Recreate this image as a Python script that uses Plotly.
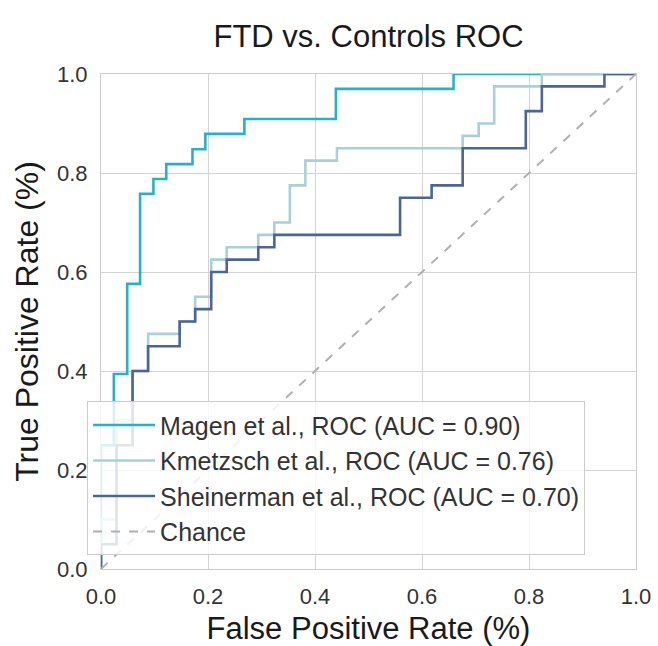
import plotly.graph_objects as go

# ---- data ----
magen_fpr = [0, 0, 0.024, 0.024, 0.049, 0.049, 0.073, 0.073, 0.098, 0.098, 0.122, 0.122,
             0.171, 0.171, 0.195, 0.195, 0.268, 0.268, 0.439, 0.439, 0.659, 0.659, 1.0]
magen_tpr = [0, 0.25, 0.25, 0.394, 0.394, 0.576, 0.576, 0.758, 0.758, 0.788, 0.788, 0.818,
             0.818, 0.848, 0.848, 0.879, 0.879, 0.909, 0.909, 0.970, 0.970, 1.0, 1.0]

kmetzsch_fpr = [0, 0, 0.029, 0.029, 0.059, 0.059, 0.088, 0.088, 0.147, 0.147, 0.176, 0.176,
                0.206, 0.206, 0.235, 0.235, 0.294, 0.294, 0.324, 0.324, 0.353, 0.353,
                0.382, 0.382, 0.441, 0.441, 0.676, 0.676, 0.706, 0.706, 0.735, 0.735,
                0.824, 0.824, 1.0]
kmetzsch_tpr = [0, 0.1, 0.1, 0.3, 0.3, 0.4, 0.4, 0.475, 0.475, 0.5, 0.5, 0.55,
                0.55, 0.625, 0.625, 0.65, 0.65, 0.675, 0.675, 0.7, 0.7, 0.775,
                0.775, 0.825, 0.825, 0.85, 0.85, 0.875, 0.875, 0.9, 0.9, 0.975,
                0.975, 1.0, 1.0]

sheinerman_fpr = [0, 0, 0.029, 0.029, 0.059, 0.059, 0.088, 0.088, 0.147, 0.147, 0.176, 0.176,
                  0.206, 0.206, 0.235, 0.235, 0.294, 0.294, 0.324, 0.324, 0.559, 0.559,
                  0.618, 0.618, 0.676, 0.676, 0.794, 0.794, 0.824, 0.824, 0.941, 0.941, 1.0]
sheinerman_tpr = [0, 0.05, 0.05, 0.25, 0.25, 0.4, 0.4, 0.45, 0.45, 0.5, 0.5, 0.525,
                  0.525, 0.6, 0.6, 0.625, 0.625, 0.65, 0.65, 0.675, 0.675, 0.75,
                  0.75, 0.775, 0.775, 0.85, 0.85, 0.925, 0.925, 0.975, 0.975, 1.0, 1.0]

chance_x = [0, 1]
chance_y = [0, 1]

names = ["Magen et al., ROC (AUC = 0.90)",
         "Kmetzsch et al., ROC (AUC = 0.76)",
         "Sheinerman et al., ROC (AUC = 0.70)",
         "Chance"]
tick_vals = [0.0, 0.2, 0.4, 0.6, 0.8, 1.0]
tick_text = ["0.0", "0.2", "0.4", "0.6", "0.8", "1.0"]

FONT = "Liberation Sans, Arial, sans-serif"

fig = go.Figure()
fig.add_trace(go.Scatter(x=magen_fpr, y=magen_tpr, mode="lines", name=names[0],
                         legendgroup="a", line=dict(color="#27b0c9", width=2.6)))
fig.add_trace(go.Scatter(x=kmetzsch_fpr, y=kmetzsch_tpr, mode="lines", name=names[1],
                         legendgroup="b", line=dict(color="#a9cfd9", width=2.6)))
fig.add_trace(go.Scatter(x=sheinerman_fpr, y=sheinerman_tpr, mode="lines", name=names[2],
                         legendgroup="c", line=dict(color="#4b6595", width=2.6)))
fig.add_trace(go.Scatter(x=chance_x, y=chance_y, mode="lines", name=names[3],
                         legendgroup="d", line=dict(color="#b0b0b0", width=2, dash="dash")))

axis_common = dict(
    range=[0, 1], tickvals=tick_vals, ticktext=tick_text,
    showgrid=True, gridcolor="#d4d4d4", gridwidth=1,
    showline=True, linecolor="#cccccc", linewidth=1, mirror=True,
    zeroline=False, ticks="", automargin=False,
    tickfont=dict(size=22, color="#333333", family=FONT),
)

fig.update_layout(
    width=658, height=646,
    margin=dict(l=101, r=22, t=74, b=77, autoexpand=False),
    paper_bgcolor="white", plot_bgcolor="white",
    font=dict(family=FONT, color="#222222"),
    title=dict(text="FTD vs. Controls ROC", x=368.5 / 658, xanchor="center",
               y=1 - 36 / 646, yanchor="middle",
               font=dict(size=31, color="#1a1a1a", family=FONT)),
    xaxis=dict(axis_common, ticklabelstandoff=8,
               title=dict(text="False Positive Rate (%)", standoff=8,
                          font=dict(size=31, color="#1a1a1a", family=FONT))),
    yaxis=dict(axis_common, ticklabelstandoff=8,
               title=dict(text="True Positive Rate (%)", standoff=8,
                          font=dict(size=32, color="#1a1a1a", family=FONT))),
    legend=dict(x=-0.026, y=0.339, xanchor="left", yanchor="top",
                bgcolor="rgba(255,255,255,0.82)", bordercolor="#cccccc", borderwidth=1,
                font=dict(size=25, color="#333333", family=FONT),
                traceorder="grouped", tracegroupgap=0, itemwidth=62),
    showlegend=True,
)

fig.write_html("out.html")
